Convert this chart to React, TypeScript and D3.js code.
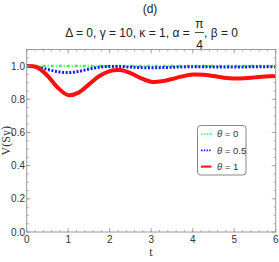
import React from "react";
import * as d3 from "d3";

const tValues = [0, 0.25, 0.5, 0.75, 1.0, 1.25, 1.5, 1.75, 2.0, 2.25, 2.5, 2.75, 3.0, 3.25, 3.5, 3.75, 4.0, 4.25, 4.5, 4.75, 5.0, 5.25, 5.5, 5.75, 6.0];
const theta0 = [1, 1, 1, 1, 1, 1, 1, 1, 1, 1, 1, 1, 1, 1, 1, 1, 1, 1, 1, 1, 1, 1, 1, 1, 1];
const theta05 = [1, 0.995, 0.98, 0.966, 0.961, 0.968, 0.982, 0.993, 0.998, 0.997, 0.994, 0.991, 0.99, 0.991, 0.993, 0.995, 0.996, 0.996, 0.995, 0.995, 0.995, 0.995, 0.996, 0.996, 0.996];
const theta1 = [1, 0.992, 0.942, 0.87, 0.825, 0.84, 0.89, 0.94, 0.97, 0.976, 0.958, 0.928, 0.906, 0.908, 0.922, 0.938, 0.949, 0.948, 0.94, 0.93, 0.925, 0.927, 0.932, 0.937, 0.94];

const xTicks = [0, 1, 2, 3, 4, 5, 6];
const yTicks = [0, 0.2, 0.4, 0.6, 0.8, 1.0];
const legendLabels = ["θ = 0", "θ = 0.5", "θ = 1"];

const W = 279, H = 262;
const L = 26.7, R = 275.7, T = 49.5, B = 232;

export default function App() {
  const x = d3.scaleLinear().domain([0, 6]).range([L, R]);
  const y = d3.scaleLinear().domain([0, 1.1]).range([B, T]);
  const line = d3.line<[number, number]>().x(d => x(d[0])).y(d => y(d[1])).curve(d3.curveCatmullRom);
  const mk = (vals: number[]) => line(tValues.map((t, i) => [t, vals[i]] as [number, number])) || "";

  const xMinor = d3.range(0, 6.0001, 0.2);
  const yMinor = d3.range(0, 1.10001, 0.05);
  const frame = "#9a9a9a";
  const sans = "'Liberation Sans', Arial, sans-serif";
  const serif = "'Liberation Serif', 'Times New Roman', serif";

  const series = [
    { vals: theta0, color: "#44ee44", width: 2.5, dash: "3,2,1,2", lw: 1.5, ldash: "1.5,1.5" },
    { vals: theta05, color: "#1a1aff", width: 3, dash: "2,1.6", lw: 1.8, ldash: "1.5,1.2" },
    { vals: theta1, color: "#ff1010", width: 4, dash: "", lw: 2, ldash: "" },
  ];

  return (
    <svg width={W} height={H} style={{ position: "absolute", left: 0, top: 0 }}>
      <rect x={0} y={0} width={W} height={H} fill="#fff" />
      <text x={150} y={13} fontFamily={sans} fontSize={12} textAnchor="middle" fill="#222">(d)</text>
      <text x={193} y={37} fontFamily={sans} fontSize={12} textAnchor="end" fill="#222" style={{ whiteSpace: "pre" }}>{"Δ = 0, γ = 10, κ = 1, α = "}</text>
      <text x={199.5} y={28} fontFamily={sans} fontSize={12} textAnchor="middle" fill="#222">π</text>
      <line x1={195} x2={204} y1={32.5} y2={32.5} stroke="#222" strokeWidth={0.8} />
      <text x={199.5} y={49} fontFamily={sans} fontSize={12} textAnchor="middle" fill="#222">4</text>
      <text x={204} y={37} fontFamily={sans} fontSize={12} fill="#222" style={{ whiteSpace: "pre" }}>{", β = 0"}</text>

      <defs>
        <clipPath id="clip"><rect x={L} y={T - 3} width={R - L} height={B - T + 3} /></clipPath>
      </defs>
      <g clipPath="url(#clip)">
        {series.map((s, i) => (
          <path key={i} d={mk(s.vals)} fill="none" stroke={s.color} strokeWidth={s.width} strokeDasharray={s.dash || undefined} />
        ))}
      </g>

      <rect x={L} y={T} width={R - L} height={B - T} fill="none" stroke={frame} strokeWidth={1} />
      {xMinor.map((v, i) => (
        <g key={"xm" + i} stroke={frame} strokeWidth={0.8}>
          <line x1={x(v)} x2={x(v)} y1={B} y2={B - 2} />
          <line x1={x(v)} x2={x(v)} y1={T} y2={T + 2} />
        </g>
      ))}
      {xTicks.map((v, i) => (
        <g key={"xt" + i}>
          <line x1={x(v)} x2={x(v)} y1={B} y2={B - 4} stroke={frame} strokeWidth={0.8} />
          <line x1={x(v)} x2={x(v)} y1={T} y2={T + 4} stroke={frame} strokeWidth={0.8} />
          <text x={x(v)} y={243} fontFamily={sans} fontSize={10} textAnchor="middle" fill="#333">{d3.format("d")(v)}</text>
        </g>
      ))}
      {yMinor.map((v, i) => (
        <g key={"ym" + i} stroke={frame} strokeWidth={0.8}>
          <line x1={L} x2={L + 2} y1={y(v)} y2={y(v)} />
          <line x1={R} x2={R - 2} y1={y(v)} y2={y(v)} />
        </g>
      ))}
      {yTicks.map((v, i) => (
        <g key={"yt" + i}>
          <line x1={L} x2={L + 4} y1={y(v)} y2={y(v)} stroke={frame} strokeWidth={0.8} />
          <line x1={R} x2={R - 4} y1={y(v)} y2={y(v)} stroke={frame} strokeWidth={0.8} />
          <text x={25} y={y(v) + 3.5} fontFamily={sans} fontSize={10} textAnchor="end" fill="#333">{d3.format(".1f")(v)}</text>
        </g>
      ))}

      <text transform={`translate(10,${(T + B) / 2}) rotate(-90)`} fontFamily={serif} fontSize={12} textAnchor="middle" fill="#333">V(Sy)</text>
      <text x={151} y={256} fontFamily={serif} fontSize={12} textAnchor="middle" fill="#333">t</text>

      <rect x={197.5} y={125.5} width={48.5} height={49.5} rx={3} fill="#fff" stroke="#888" strokeWidth={1} />
      {series.map((s, i) => (
        <g key={"lg" + i}>
          <line x1={201} x2={211.5} y1={134 + i * 16.3} y2={134 + i * 16.3} stroke={s.color} strokeWidth={s.lw} strokeDasharray={s.ldash || undefined} />
          <text x={217} y={137.3 + i * 16.3} fontFamily={sans} fontSize={9.5} fill="#333">
            <tspan fontStyle="italic">θ</tspan>{legendLabels[i].slice(1)}
          </text>
        </g>
      ))}
    </svg>
  );
}
